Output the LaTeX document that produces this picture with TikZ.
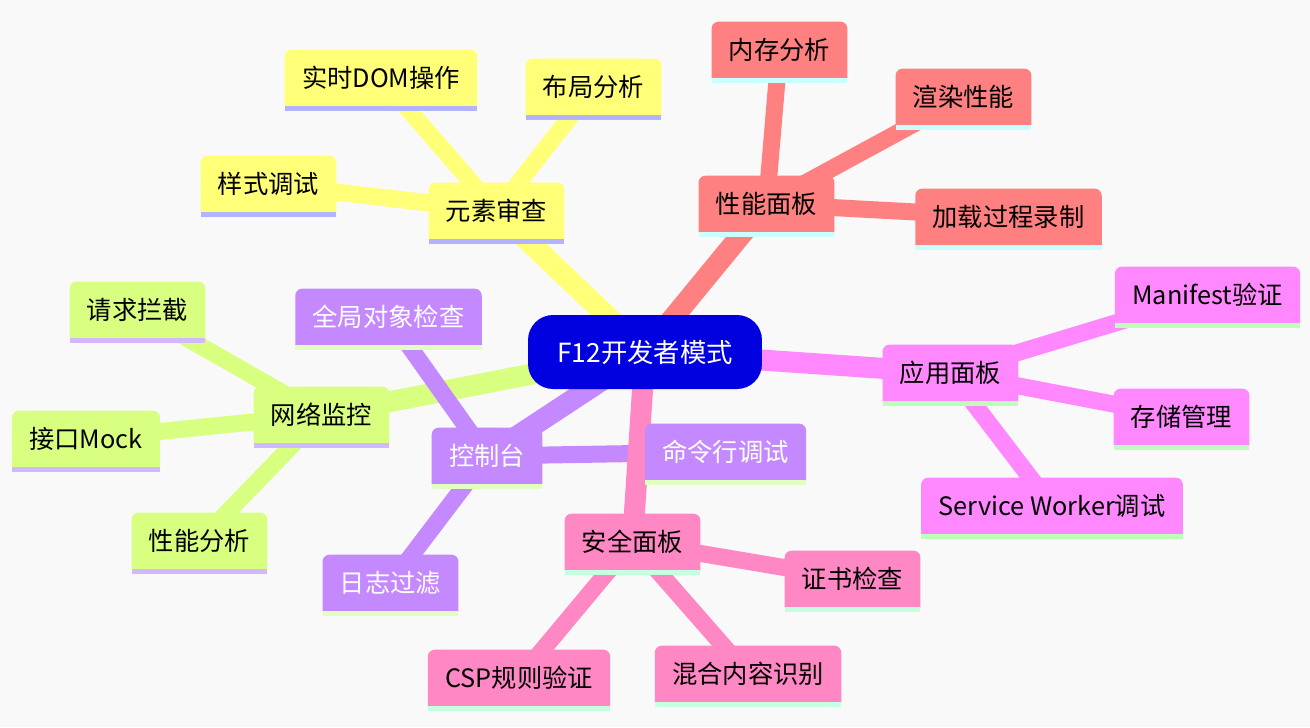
\documentclass[tikz,border=0pt]{standalone}
\usepackage{fontspec}
\setmainfont{Noto Sans CJK SC}
\usepackage{xcolor}

\pgfdeclarelayer{background}
\pgfsetlayers{background,main}

\definecolor{canvas}{HTML}{F9F9F9}
\definecolor{rootblue}{HTML}{0000E0}
\definecolor{yelfill}{HTML}{FFFF78}
\definecolor{yelline}{HTML}{B3B3FF}
\definecolor{redfill}{HTML}{FF8080}
\definecolor{redline}{HTML}{C8FFFF}
\definecolor{magfill}{HTML}{FF88FF}
\definecolor{magline}{HTML}{BBFFBB}
\definecolor{limefill}{HTML}{D9FF80}
\definecolor{limeline}{HTML}{D2B8FF}
\definecolor{purfill}{HTML}{C589FF}
\definecolor{purline}{HTML}{E0FFC0}
\definecolor{rosefill}{HTML}{FF88C4}
\definecolor{roseline}{HTML}{C4FFE0}

\newcommand\mmfont{\fontsize{14.4pt}{17pt}\selectfont}

\begin{document}
\begin{tikzpicture}[
    x=0.02cm, y=-0.02cm,
    % Node styles
    root/.style={
        fill=rootblue,
        text=white,
        rounded corners=0.5cm,
        minimum width=4.68cm,
        minimum height=1.48cm,
        font=\fontsize{15pt}{18pt}\selectfont
    },
    leaf/.style={
        inner xsep=0.34cm,
        minimum height=1.12cm,
        font=\mmfont
    },
    trunk/.style={line width=0.42cm},
    twig/.style={line width=0.34cm}
]
\useasboundingbox (0,0) rectangle (1310,727);

% --- Nodes ---
\node[root] (root) at (645,352) {F12开发者模式};

% Element inspection
\node[leaf] (elem) at (496.5,211) {元素审查};
\node[leaf] (dom) at (381,78) {实时DOM操作};
\node[leaf] (layout) at (593.5,87) {布局分析};
\node[leaf] (style) at (268.5,184) {样式调试};

% Performance
\node[leaf] (perf) at (766.5,204) {性能面板};
\node[leaf] (mem) at (779.5,50) {内存分析};
\node[leaf] (render) at (963.5,97) {渲染性能};
\node[leaf] (load) at (1008.5,217) {加载过程录制};

% Application
\node[leaf] (app) at (950.5,373) {应用面板};
\node[leaf] (manifest) at (1207.5,295) {Manifest验证};
\node[leaf] (storage) at (1181.5,417) {存储管理};
\node[leaf] (worker) at (1052,506) {Service Worker调试};

% Security
\node[leaf] (sec) at (632.5,542) {安全面板};
\node[leaf] (cert) at (852.5,579) {证书检查};
\node[leaf] (mixed) at (748,674) {混合内容识别};
\node[leaf] (csp) at (519,678) {CSP规则验证};

% Console
\node[leaf, text=white] (console) at (487,456) {控制台};
\node[leaf, text=white] (cmd) at (725.5,452) {命令行调试};
\node[leaf, text=white] (global) at (388.5,317) {全局对象检查};
\node[leaf, text=white] (logs) at (390.5,583) {日志过滤};

% Network
\node[leaf] (net) at (321.5,415) {网络监控};
\node[leaf] (intercept) at (137.5,310) {请求拦截};
\node[leaf] (mock) at (86,439) {接口Mock};
\node[leaf] (netperf) at (199.5,541) {性能分析};

\begin{pgfonlayer}{background}
\fill[canvas] (0,0) rectangle (1310,727);

% --- Connectors (centre to centre, hidden under the boxes) ---
\draw[trunk, limefill] (root.center) -- (net.center);
\foreach \n in {intercept,mock,netperf} \draw[twig, limefill] (net.center) -- (\n.center);

\draw[trunk, yelfill] (root.center) -- (elem.center);
\foreach \n in {dom,layout,style} \draw[twig, yelfill] (elem.center) -- (\n.center);

\draw[trunk, redfill] (root.center) -- (perf.center);
\foreach \n in {mem,render,load} \draw[twig, redfill] (perf.center) -- (\n.center);

\draw[trunk, magfill] (root.center) -- (app.center);
\foreach \n in {manifest,storage,worker} \draw[twig, magfill] (app.center) -- (\n.center);

\draw[trunk, purfill] (root.center) -- (console.center);
\foreach \n in {cmd,global,logs} \draw[twig, purfill] (console.center) -- (\n.center);

\draw[trunk, rosefill] (root.center) -- (sec.center);
\foreach \n in {cert,mixed,csp} \draw[twig, rosefill] (sec.center) -- (\n.center);

% --- Box fills with bottom strip ---
\foreach \n/\c/\s in {
    elem/yelfill/yelline, dom/yelfill/yelline, layout/yelfill/yelline, style/yelfill/yelline,
    perf/redfill/redline, mem/redfill/redline, render/redfill/redline, load/redfill/redline,
    app/magfill/magline, manifest/magfill/magline, storage/magfill/magline, worker/magfill/magline,
    sec/rosefill/roseline, cert/rosefill/roseline, mixed/rosefill/roseline, csp/rosefill/roseline,
    console/purfill/purline, cmd/purfill/purline, global/purfill/purline, logs/purfill/purline,
    net/limefill/limeline, intercept/limefill/limeline, mock/limefill/limeline, netperf/limefill/limeline} {
    \fill[\c] (\n.south west) [rounded corners=0.14cm] -- (\n.north west) -- (\n.north east)
        [sharp corners] -- (\n.south east) -- cycle;
    \fill[\s] (\n.south west) rectangle ([yshift=-0.1cm]\n.south east);
}
\end{pgfonlayer}

\end{tikzpicture}
\end{document}
